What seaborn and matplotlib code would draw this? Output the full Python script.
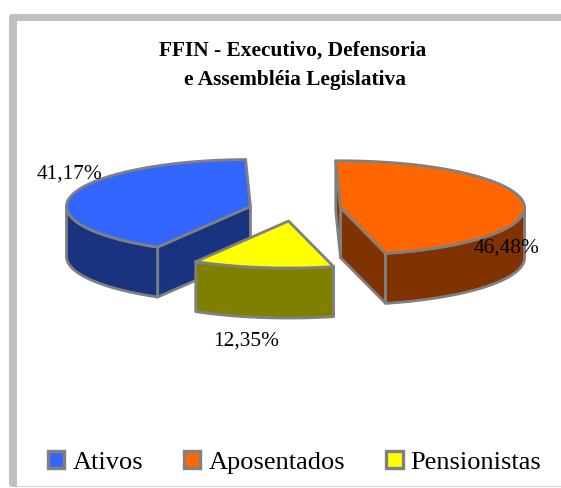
# -*- coding: utf-8 -*-
# FFIN - exploded 3D style pie, drawn by hand since matplotlib pie is flat
import numpy as np
import matplotlib
matplotlib.use('Agg')
import matplotlib.pyplot as plt
from matplotlib.patches import Polygon, Patch, FancyBboxPatch, Rectangle
import seaborn as sns

categories = ['Ativos', 'Pensionistas', 'Aposentados']
values = [41.17, 12.35, 46.48]
title_lines = ['FFIN - Executivo, Defensoria', 'e Assembléia Legislativa']
legend_order = ['Ativos', 'Aposentados', 'Pensionistas']

top_colors = {'Ativos': '#3366FF', 'Aposentados': '#FF6600', 'Pensionistas': '#FFFF00'}
side_colors = {'Ativos': '#19337F', 'Aposentados': '#803300', 'Pensionistas': '#808000'}
edge_color = '#808080'

sns.set_theme(style='white')
plt.rcParams['font.family'] = ['Liberation Serif', 'DejaVu Serif']

# ellipse geometry, in pixels of the figure
cx, cy = 295.0, 210.4
rx, ry = 184.0, 47.0
depth = 50.0
explode = 0.25
start_angle = 91.5

fig = plt.figure(figsize=(5.61, 4.89), dpi=100)
ax = fig.add_axes([0, 0, 1, 1])
ax.set_xlim(0, 561)
ax.set_ylim(489, 0)
ax.axis('off')

# chart frame
ax.add_patch(FancyBboxPatch((9, 15), 600, 473, boxstyle='round,pad=0,rounding_size=3',
                            fc='#C0C0C0', lw=0, zorder=0))
ax.add_patch(Rectangle((17, 22), 544, 465, fc='white', lw=0, zorder=1))
ax.add_patch(Rectangle((17, 487), 544, 1.2, fc='#D0D0D0', lw=0, zorder=1))


def ellipse_point(x0, y0, t):
    return x0 + rx * np.cos(t), y0 - ry * np.sin(t)


def add_poly(xs, ys, color, z):
    ax.add_patch(Polygon(np.column_stack([xs, ys]), closed=True, fc=color, ec=edge_color,
                         lw=2.0, joinstyle='round', zorder=z))


def radial_face(x0, y0, t, color, z):
    x1, y1 = ellipse_point(x0, y0, t)
    add_poly([x0, x1, x1, x0], [y0, y1, y1 + depth, y0 + depth], color, z)


# wedges go counter clockwise from start_angle
spans = []
angle = np.radians(start_angle)
for cat, val in zip(categories, values):
    sweep = np.radians(val * 3.6)
    spans.append((cat, angle, angle + sweep))
    angle += sweep

draw_order = ['Ativos', 'Aposentados', 'Pensionistas']
spans = sorted(spans, key=lambda s: draw_order.index(s[0]))

for i, (cat, t1, t2) in enumerate(spans):
    z = 2 + i
    mid = (t1 + t2) / 2
    x0 = cx + explode * rx * np.cos(mid)
    y0 = cy - explode * ry * np.sin(mid)
    side = side_colors[cat]

    # cut faces, only those turned towards the viewer
    if np.cos(t1) > 0:
        radial_face(x0, y0, t1, side, z)
    if np.cos(t2) < 0:
        radial_face(x0, y0, t2, side, z)

    # outer wall, the front half of the ellipse only
    tt = np.linspace(t1, t2, 200)
    tt = tt[np.sin(tt) <= 0]
    if len(tt) > 1:
        xs, ys = ellipse_point(x0, y0, tt)
        add_poly(np.r_[xs, xs[::-1]], np.r_[ys, ys[::-1] + depth], side, z)

    # top face
    tt = np.linspace(t1, t2, 200)
    xs, ys = ellipse_point(x0, y0, tt)
    add_poly(np.r_[x0, xs], np.r_[y0, ys], top_colors[cat], z)

# value labels
label_pos = {'Ativos': (69.5, 174), 'Aposentados': (506.5, 248), 'Pensionistas': (246, 341)}
for cat, val in zip(categories, values):
    txt = f'{val:.2f}%'.replace('.', ',')
    ax.text(*label_pos[cat], txt, ha='center', va='center', fontsize=15.4, color='black', zorder=10)

# title
ax.text(292.5, 51, title_lines[0], ha='center', va='center', fontsize=15.4,
        fontweight='bold', color='black', zorder=10)
ax.text(295, 80, title_lines[1], ha='center', va='center', fontsize=15.4,
        fontweight='bold', color='black', zorder=10)

handles = [Patch(fc=top_colors[c], ec=edge_color, lw=2.4) for c in legend_order]
leg = ax.legend(handles, legend_order, ncol=3, loc='center left',
                bbox_to_anchor=(48 / 561, 1 - 463 / 489), frameon=False, fontsize=19,
                labelcolor='black', handlelength=0.62, handleheight=0.64, handletextpad=0.3,
                columnspacing=1.56, borderpad=0, borderaxespad=0)
leg.set_zorder(10)

fig.savefig('out.png', dpi=100)
